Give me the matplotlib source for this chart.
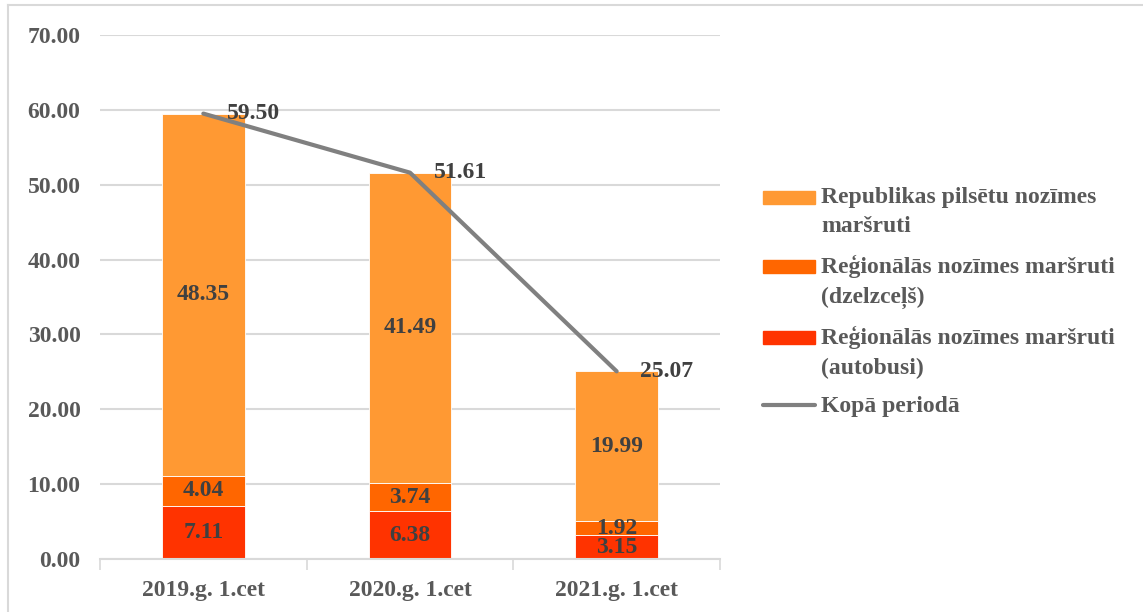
import numpy as np
import matplotlib.pyplot as plt
from matplotlib.lines import Line2D
from matplotlib.patches import Patch
from matplotlib.legend_handler import HandlerPatch

# Dati
periodi = ["2019.g. 1.cet", "2020.g. 1.cet", "2021.g. 1.cet"]
autobusi = [7.11, 6.38, 3.15]
dzelzcels = [4.04, 3.74, 1.92]
republikas = [48.35, 41.49, 19.99]
kopa = [59.50, 51.61, 25.07]

nosaukumi = ["Republikas pilsētu nozīmes\nmaršruti",
             "Reģionālās nozīmes maršruti\n(dzelzceļš)",
             "Reģionālās nozīmes maršruti\n(autobusi)",
             "Kopā periodā"]
krasas = ["#FF9933", "#FF6600", "#FF3300"]


class AugsaPatch(HandlerPatch):
    # legendas kvadratins pie pirmas rindas
    def create_artists(self, legend, orig_handle, xdescent, ydescent, width,
                       height, fontsize, trans):
        return super().create_artists(legend, orig_handle, xdescent,
                                      ydescent - 10.5, width, height,
                                      fontsize, trans)


plt.rcParams['font.family'] = ['Liberation Serif', 'DejaVu Serif']
plt.rcParams['font.weight'] = 'bold'

fig = plt.figure(figsize=(11.43, 6.12), dpi=100)
ax = fig.add_axes([100/1143, 53/612, 620/1143, 524/612])

x = np.arange(len(periodi))
w = 0.4
b1 = ax.bar(x, autobusi, w, color=krasas[2], edgecolor='white', linewidth=0.6, zorder=2)
b2 = ax.bar(x, dzelzcels, w, bottom=autobusi, color=krasas[1], edgecolor='white',
            linewidth=0.6, zorder=2)
apaksa = np.array(autobusi) + np.array(dzelzcels)
b3 = ax.bar(x, republikas, w, bottom=apaksa, color=krasas[0], edgecolor='white',
            linewidth=0.6, zorder=2)
ln, = ax.plot(x, kopa, color='#808080', lw=3, solid_capstyle='round', zorder=3)

# Vertibas joslas
for bars, vals in [(b1, autobusi), (b2, dzelzcels), (b3, republikas)]:
    ax.bar_label(bars, labels=[f"{v:.2f}" for v in vals], label_type='center',
                 fontsize=17, fontweight='bold', color='#404040', zorder=4)
for xi, v in zip(x, kopa):
    ax.annotate(f"{v:.2f}", (xi, v), xytext=(17, 0), textcoords='offset points',
                ha='left', va='center', fontsize=17, fontweight='bold',
                color='#404040', zorder=5)

ax.set_ylim(0, 70)
ax.set_xlim(-0.5, 2.5)
ax.set_yticks(np.arange(0, 71, 10))
ax.set_yticklabels([f"{t:.2f}" for t in np.arange(0, 71, 10)])
ax.set_xticks(x)
ax.set_xticklabels(periodi)
ax.set_xticks([-0.5, 0.5, 1.5, 2.5], minor=True)
ax.tick_params(axis='x', which='major', length=0, pad=15, labelsize=17, labelcolor='#595959')
ax.tick_params(axis='x', which='minor', length=8, color='#D9D9D9', width=1.2)
ax.tick_params(axis='y', length=0, pad=14, labelsize=17, labelcolor='#595959')
ax.grid(axis='y', color='#D9D9D9', lw=1.5, zorder=0)
ax.set_axisbelow(True)
for s in ['top', 'right', 'left']:
    ax.spines[s].set_visible(False)
ax.spines['bottom'].set_color('#D9D9D9')
ax.spines['bottom'].set_linewidth(1.5)

roki = [Patch(color=krasas[0]), Patch(color=krasas[1]), Patch(color=krasas[2]), ln]
leg = fig.legend(roki, nosaukumi, loc='upper left',
                 bbox_to_anchor=(742/1143, 1 - 166/612), frameon=False,
                 fontsize=17, handlelength=2.2, handleheight=0.5,
                 handletextpad=0.25, labelspacing=0.75,
                 handler_map={roki[0]: AugsaPatch(), roki[1]: AugsaPatch(),
                              roki[2]: AugsaPatch()})
for t in leg.get_texts():
    t.set_color('#595959')
    t.set_fontweight('bold')
    t.set_linespacing(1.5)

# Ramis
fig.add_artist(Line2D([8/1143, 8/1143], [0, 1 - 5/612], color='#D9D9D9', lw=1.5))
fig.add_artist(Line2D([8/1143, 1], [1 - 5/612, 1 - 5/612], color='#D9D9D9', lw=1.5))

fig.savefig('out.png', dpi=100)
